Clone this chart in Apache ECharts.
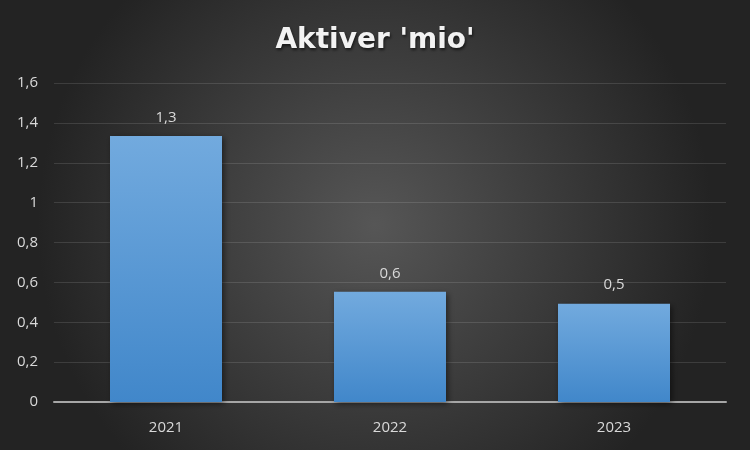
<!DOCTYPE html>
<html><head><meta charset="utf-8">
<script src="https://cdn.jsdelivr.net/npm/echarts@6/dist/echarts.min.js"></script>
<style>html,body{margin:0;padding:0;}#c{width:750px;height:450px;}</style>
</head><body><div id="c"></div>
<script>
const titleText = "Aktiver 'mio'";
const categories = ['2021', '2022', '2023'];
const values = [1.334, 0.553, 0.493];
const yMin = 0, yMax = 1.6, yStep = 0.2;

const fmt = v => (Math.round(v * 10) / 10).toString().replace('.', ',');
const chart = echarts.init(document.getElementById('c'), null, {renderer: 'canvas'});
chart.setOption({
  animation: false,
  backgroundColor: {
    type: 'radial', x: 0.5, y: 0.5, r: 0.75,
    colorStops: [{offset: 0, color: '#565656'}, {offset: 1, color: '#232323'}]
  },
  title: {
    text: titleText, left: 'center', top: 22,
    textStyle: {color: '#f2f2f2', fontSize: 28, fontWeight: 'bold', fontFamily: 'DejaVu Sans',
      textShadowColor: 'rgba(0,0,0,0.6)', textShadowBlur: 3, textShadowOffsetX: 1, textShadowOffsetY: 2}
  },
  grid: {left: 54, right: 24, top: 83, bottom: 48},
  xAxis: {
    type: 'category', data: categories,
    axisLine: {lineStyle: {color: '#a6a6a6', width: 2}},
    axisTick: {show: false},
    axisLabel: {color: '#d9d9d9', fontSize: 15, fontFamily: 'Open Sans', margin: 18}
  },
  yAxis: {
    type: 'value', min: yMin, max: yMax, interval: yStep,
    axisLine: {show: false}, axisTick: {show: false},
    splitLine: {lineStyle: {color: 'rgba(255,255,255,0.12)', width: 1}},
    axisLabel: {color: '#d9d9d9', fontSize: 15, fontFamily: 'Open Sans', margin: 16,
      formatter: v => String(Math.round(v * 10) / 10).replace('.', ',')}
  },
  series: [{
    type: 'bar', data: values, barWidth: '50%',
    itemStyle: {
      color: {type: 'linear', x: 0, y: 0, x2: 0, y2: 1,
        colorStops: [{offset: 0, color: '#72aade'}, {offset: 1, color: '#4187ca'}]},
      shadowColor: 'rgba(0,0,0,0.5)', shadowBlur: 6, shadowOffsetX: 2, shadowOffsetY: 2
    },
    label: {show: true, position: 'top', distance: 11, color: '#d9d9d9', fontSize: 15,
      fontFamily: 'Open Sans', formatter: p => fmt(p.value)}
  }]
});
</script></body></html>
